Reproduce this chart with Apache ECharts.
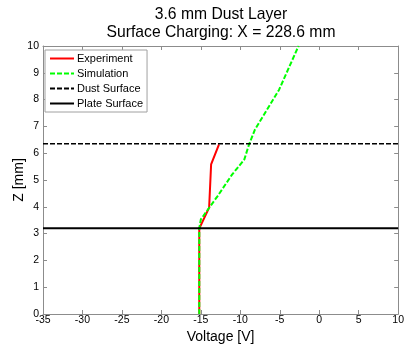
<!DOCTYPE html>
<html>
<head>
<meta charset="utf-8">
<script src="https://cdn.jsdelivr.net/npm/echarts@6/dist/echarts.min.js"></script>
<style>html,body{margin:0;padding:0;background:#fff}#c{width:407px;height:349px}</style>
</head>
<body>
<div id="c"></div>
<script>
var titleLines = ['3.6 mm Dust Layer', 'Surface Charging: X = 228.6 mm'];
var xLabel = 'Voltage [V]';
var yLabel = 'Z [mm]';
var seriesNames = ['Experiment', 'Simulation', 'Dust Surface', 'Plate Surface'];

var expVoltage = [-15.2, -15.2, -13.95, -13.7, -12.7];
var expZ       = [0, 3.19, 3.97, 5.58, 6.33];

var simVoltage = [-15.2, -15.2, -15.0, -12.9, -11.05, -9.5, -8.9, -8.15, -5.1, -2.7, -2.6];
var simZ       = [0, 3.2, 3.53, 4.39, 5.2, 5.76, 6.32, 6.88, 8.36, 9.95, 10];

var dustZ = 6.35;
var plateZ = 3.2;
var xMin = -35, xMax = 10, xStep = 5;
var yMin = 0, yMax = 10, yStep = 1;

function pairs(xs, ys) { return xs.map(function (x, i) { return [x, ys[i]]; }); }

var font = 'Liberation Sans, Arial, Helvetica, sans-serif';
var axisGray = '#8c8c8c';

function mkX(pos, show) {
  return {
    type: 'value', position: pos, min: xMin, max: xMax, interval: xStep,
    axisLine: { show: true, onZero: false, lineStyle: { color: axisGray, width: 1 } },
    axisTick: { show: true, inside: true, length: 4, lineStyle: { color: axisGray } },
    axisLabel: { show: show, color: '#000', fontSize: 10.5, fontFamily: font, margin: 1 },
    splitLine: { show: false },
    name: show ? xLabel : '', nameLocation: 'middle', nameGap: 16, nameMoveOverlap: false,
    nameTextStyle: { color: '#000', fontSize: 14, fontFamily: font }
  };
}
function mkY(pos, show) {
  return {
    type: 'value', position: pos, min: yMin, max: yMax, interval: yStep,
    axisLine: { show: true, onZero: false, lineStyle: { color: axisGray, width: 1 } },
    axisTick: { show: true, inside: true, length: 4, lineStyle: { color: axisGray } },
    axisLabel: { show: show, color: '#000', fontSize: 10.5, fontFamily: font, margin: 4 },
    splitLine: { show: false },
    name: show ? yLabel : '', nameLocation: 'middle', nameGap: 17, nameMoveOverlap: false,
    nameTextStyle: { color: '#000', fontSize: 14, fontFamily: font }
  };
}

var chart = echarts.init(document.getElementById('c'), null, { renderer: 'canvas' });
chart.setOption({
  animation: false,
  backgroundColor: '#fff',
  title: {
    text: titleLines.join('\n'),
    left: 221, top: 6, padding: 0, textAlign: 'center',
    textStyle: { fontSize: 15.7, fontWeight: 'normal', color: '#000', fontFamily: font, lineHeight: 18 }
  },
  grid: { left: 43, right: 7, top: 46, bottom: 35, containLabel: false },
  xAxis: [mkX('bottom', true), mkX('top', false)],
  yAxis: [mkY('left', true), mkY('right', false)],
  legend: {
    orient: 'vertical', left: 45, top: 50,
    itemWidth: 24, itemHeight: 10, itemGap: 4,
    padding: [3, 4, 3, 4],
    backgroundColor: '#fff', borderColor: '#a0a0a0', borderWidth: 1,
    itemStyle: { opacity: 0 },
    textStyle: { fontSize: 11, color: '#000', fontFamily: font, padding: [0, 0, 0, -2] },
    data: seriesNames
  },
  series: [
    { name: seriesNames[0], type: 'line', symbol: 'none', data: pairs(expVoltage, expZ),
      lineStyle: { color: '#ff0000', width: 2 }, itemStyle: { color: '#ff0000' } },
    { name: seriesNames[1], type: 'line', symbol: 'none', data: pairs(simVoltage, simZ),
      lineStyle: { color: '#00ff00', width: 2, type: [5, 2] }, itemStyle: { color: '#00ff00' } },
    { name: seriesNames[2], type: 'line', symbol: 'none', data: [[xMin, dustZ], [xMax, dustZ]],
      lineStyle: { color: '#000', width: 1.5, type: [5, 2] }, itemStyle: { color: '#000' } },
    { name: seriesNames[3], type: 'line', symbol: 'none', data: [[xMin, plateZ], [xMax, plateZ]],
      lineStyle: { color: '#000', width: 2 }, itemStyle: { color: '#000' } }
  ]
});
</script>
</body>
</html>
